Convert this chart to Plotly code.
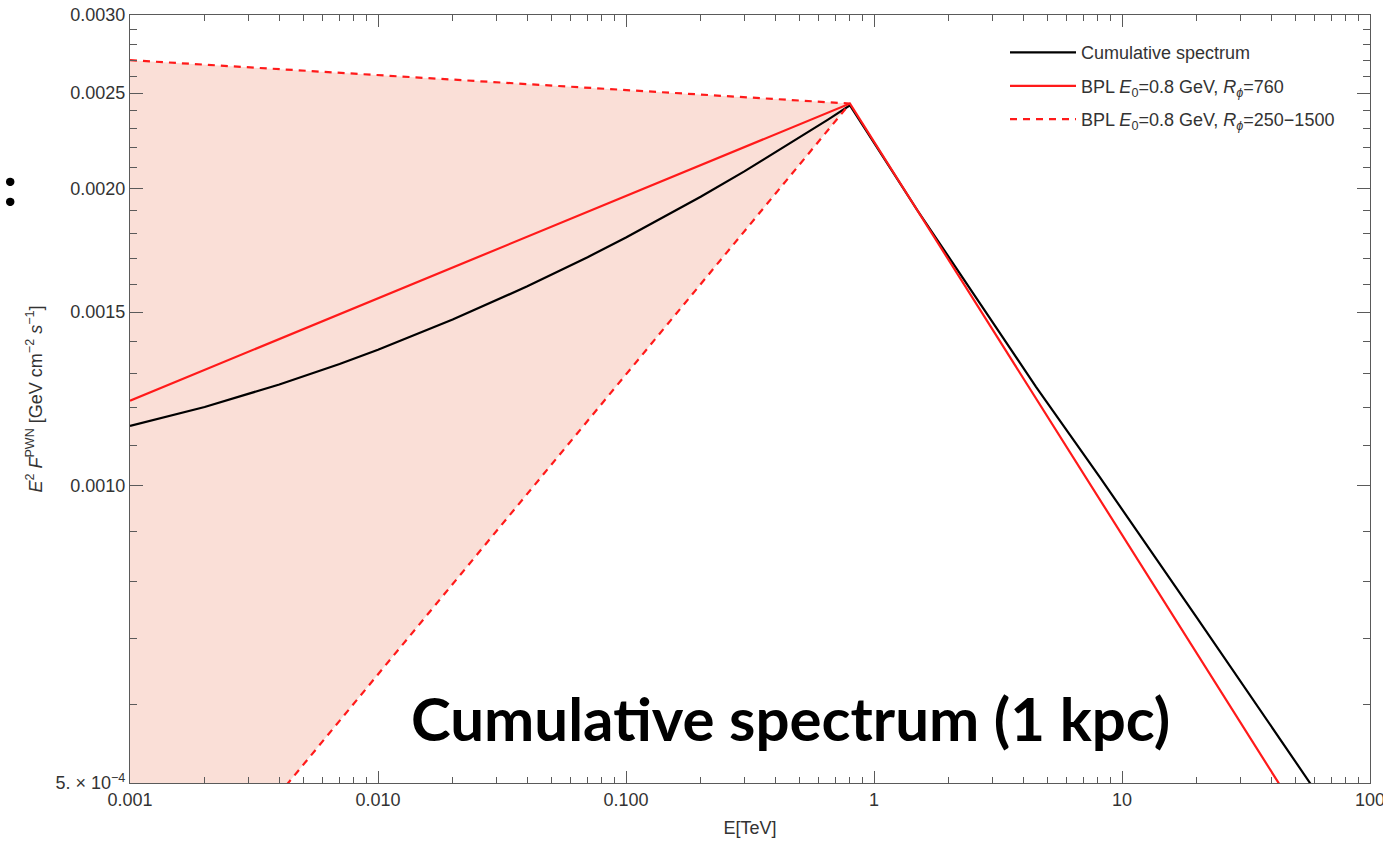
import plotly.graph_objects as go

# Cumulative PWN spectrum (black) and broken power-law fits (red)
energy_cumulative = [0.001, 0.002, 0.004, 0.007, 0.01, 0.02, 0.04, 0.07, 0.1, 0.2, 0.3,
                     0.5, 0.65, 0.8, 1.5, 2.5, 4.5, 8.15, 20.0, 57.3, 70.0]
flux_cumulative = [0.001150, 0.001202, 0.001267, 0.001329, 0.001374, 0.001474, 0.001593,
                   0.001705, 0.001785, 0.001963, 0.002083, 0.002253, 0.002349, 0.002430,
                   0.001900, 0.001570, 0.001260, 0.001020, 0.000736, 0.000500, 0.000465]

energy_bpl = [0.001, 0.8, 50.0]
flux_bpl = [0.00122, 0.00244, 0.00047]

# Envelope of the broken power law for R_phi = 250-1500 (upper branch, break, lower branch)
energy_band = [0.001, 0.8, 0.001]
flux_band = [0.00270, 0.00244, 0.00032]

x_tick_vals = [0.001, 0.01, 0.1, 1, 10, 100]
x_tick_text = ["0.001", "0.010", "0.100", "1", "10", "100"]
y_tick_vals = [0.0005, 0.0010, 0.0015, 0.0020, 0.0025, 0.0030]
y_tick_text = ["5. × 10<sup>−4</sup>", "0.0010", "0.0015", "0.0020", "0.0025", "0.0030"]

x_minor = [m * 10.0 ** d for d in range(-3, 2) for m in range(2, 10)]
y_minor = [round(k * 0.0001, 4) for k in range(5, 31) if k % 5 != 0]

label_color = "#333333"
frame_color = "#5a5a5a"
tick_font = dict(family="Liberation Sans, Arial, sans-serif", size=18, color=label_color)

fig = go.Figure()

fig.add_trace(go.Scatter(
    x=energy_band, y=flux_band, mode="lines", fill="toself",
    fillcolor="rgb(250,223,215)", line=dict(width=0), hoverinfo="skip",
    showlegend=False,
))

fig.add_trace(go.Scatter(
    x=energy_cumulative, y=flux_cumulative, mode="lines",
    line=dict(color="black", width=2.2),
    name="Cumulative spectrum", legendgroup="a",
))

fig.add_trace(go.Scatter(
    x=energy_bpl, y=flux_bpl, mode="lines",
    line=dict(color="#ff1a1a", width=2.2),
    name="BPL <i>E</i><sub>0</sub>=0.8 GeV, <i>R</i><sub><i>ϕ</i></sub>=760", legendgroup="b",
))

fig.add_trace(go.Scatter(
    x=energy_band, y=flux_band, mode="lines",
    line=dict(color="#ff1a1a", width=2.2, dash="7px,6px"),
    name="BPL <i>E</i><sub>0</sub>=0.8 GeV, <i>R</i><sub><i>ϕ</i></sub>=250−1500", legendgroup="c",
))

axis_common = dict(
    showgrid=False, zeroline=False, showline=True, linecolor=frame_color, linewidth=1.2,
    mirror="allticks", ticks="inside", tickcolor=frame_color, tickwidth=1.2,
    tickfont=tick_font, ticklabeloverflow="allow",
)

fig.update_xaxes(
    type="log", range=[-3, 2], tickmode="array", tickvals=x_tick_vals, ticktext=x_tick_text,
    ticklen=12,
    minor=dict(tickmode="array", tickvals=x_minor, ticks="inside", ticklen=6,
               tickcolor=frame_color, tickwidth=1.2, showgrid=False),
    title=dict(text="E[TeV]", font=tick_font, standoff=12),
    **axis_common,
)

fig.update_yaxes(
    type="log", range=[-3.30103, -2.522879], tickmode="array", tickvals=y_tick_vals,
    ticktext=y_tick_text, ticklen=13,
    minor=dict(tickmode="array", tickvals=y_minor, ticks="inside", ticklen=7,
               tickcolor=frame_color, tickwidth=1.2, showgrid=False),
    title=dict(
        text="<i>E</i><sup>2</sup> <i>F</i><sup>PWN</sup> [GeV cm<sup>−2</sup> <i>s</i><sup>−1</sup>]",
        font=tick_font, standoff=8,
    ),
    **axis_common,
)

fig.add_annotation(
    text="<b>Cumulative spectrum (1 kpc)</b>", xref="paper", yref="paper",
    x=(790 - 130) / 1240, y=1 - (718 - 15) / 768, xanchor="center", yanchor="middle",
    showarrow=False, font=dict(family="Lato, sans-serif", size=60, color="black"),
)
fig.add_annotation(
    text="<b>:</b>", xref="paper", yref="paper",
    x=(10 - 130) / 1240, y=1 - (184 - 15) / 768, xanchor="center", yanchor="middle",
    showarrow=False, font=dict(family="Lato, sans-serif", size=56, color="black"),
)

fig.update_layout(
    width=1383, height=842,
    margin=dict(l=130, r=13, t=15, b=59, autoexpand=False),
    paper_bgcolor="white", plot_bgcolor="white",
    showlegend=True,
    legend=dict(
        x=(1005 - 130) / 1240, y=0.975, xanchor="left", yanchor="top",
        bgcolor="rgba(0,0,0,0)", borderwidth=0,
        font=dict(family="Liberation Sans, Arial, sans-serif", size=18, color=label_color),
        tracegroupgap=7, itemwidth=66,
    ),
)

fig.write_html("out.html")
